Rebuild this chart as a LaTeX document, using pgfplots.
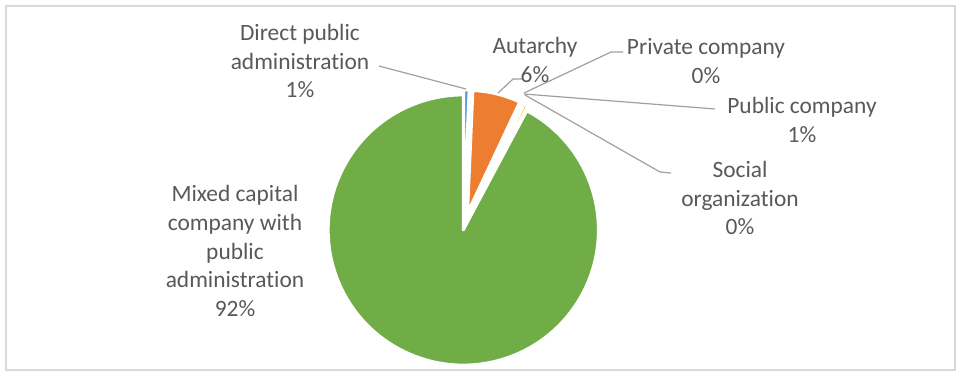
\documentclass[border=0pt]{standalone}
\usepackage{pgfplots}
\pgfplotsset{compat=1.18}
\usepackage{fontspec}
\setmainfont{Carlito}[Ligatures=NoCommon]
\definecolor{cblue}{HTML}{5B9BD5}
\definecolor{corange}{HTML}{ED7D31}
\definecolor{cgray}{HTML}{A5A5A5}
\definecolor{cyellow}{HTML}{FFC000}
\definecolor{cdblue}{HTML}{4472C4}
\definecolor{cgreen}{HTML}{70AD47}
\definecolor{txt}{HTML}{595959}
\definecolor{lead}{HTML}{A0A0A0}
\pgfplotsset{canvas/.style={hide axis, scale only axis, width=479.5bp, height=188bp,
  xmin=0, xmax=959, ymin=0, ymax=376, y dir=reverse, clip=false}}
\tikzset{lbl/.style={font=\fontsize{11.7bp}{14.3bp}\selectfont, text=txt, align=center, inner sep=0pt}}
\begin{document}
\begin{tikzpicture}
\begin{axis}[canvas]
\fill[white] (axis cs:0,0) rectangle (axis cs:959,376);
\draw[color=black!15, line width=0.8bp] (axis cs:6,6) rectangle (axis cs:955,370);
\coordinate (G) at (axis cs:463.3,230);
\end{axis}
% pie slices: value (%) / colour / explosion (bp) / radius (bp)
\def\cum{0}
\foreach \v/\col/\ex/\r in {0.7/cblue/9/61, 6.3/corange/9/61, 0.15/cgray/9/61, 0.5/cyellow/9/61, 0.15/cdblue/9/61, 92.2/cgreen/0/67.5} {
  \pgfmathsetmacro\sa{90-3.6*\cum}
  \pgfmathsetmacro\ea{90-3.6*(\cum+\v)}
  \pgfmathsetmacro\ma{(\sa+\ea)/2}
  \filldraw[fill=\col, draw=white, line width=1.4bp, line join=round]
    (G) ++(\ma:\ex bp) -- ++(\sa:\r bp) arc[start angle=\sa, end angle=\ea, radius=\r bp] -- cycle;
  \pgfmathsetmacro\nc{\cum+\v}
  \xdef\cum{\nc}
}
\begin{axis}[canvas]
\draw[lead, line width=0.6bp] (axis cs:379,66) -- (axis cs:466,89);
\draw[lead, line width=0.6bp] (axis cs:522,79) -- (axis cs:513,79) -- (axis cs:498,93);
\draw[lead, line width=0.6bp] (axis cs:623,52) -- (axis cs:611,52) -- (axis cs:524,93);
\draw[lead, line width=0.6bp] (axis cs:715,109) -- (axis cs:524,94);
\draw[lead, line width=0.6bp] (axis cs:525,95) -- (axis cs:660,172) -- (axis cs:671,173);
\node[lbl] at (axis cs:300,61) {Direct public\\administration\\1\%};
\node[lbl] at (axis cs:535,60) {Autarchy\\6\%};
\node[lbl] at (axis cs:706,61) {Private company\\0\%};
\node[lbl] at (axis cs:802,120) {Public company\\1\%};
\node[lbl] at (axis cs:740,198) {Social\\organization\\0\%};
\node[lbl] at (axis cs:235,251) {Mixed capital\\company with\\public\\administration\\92\%};
\end{axis}
\end{tikzpicture}
\end{document}
